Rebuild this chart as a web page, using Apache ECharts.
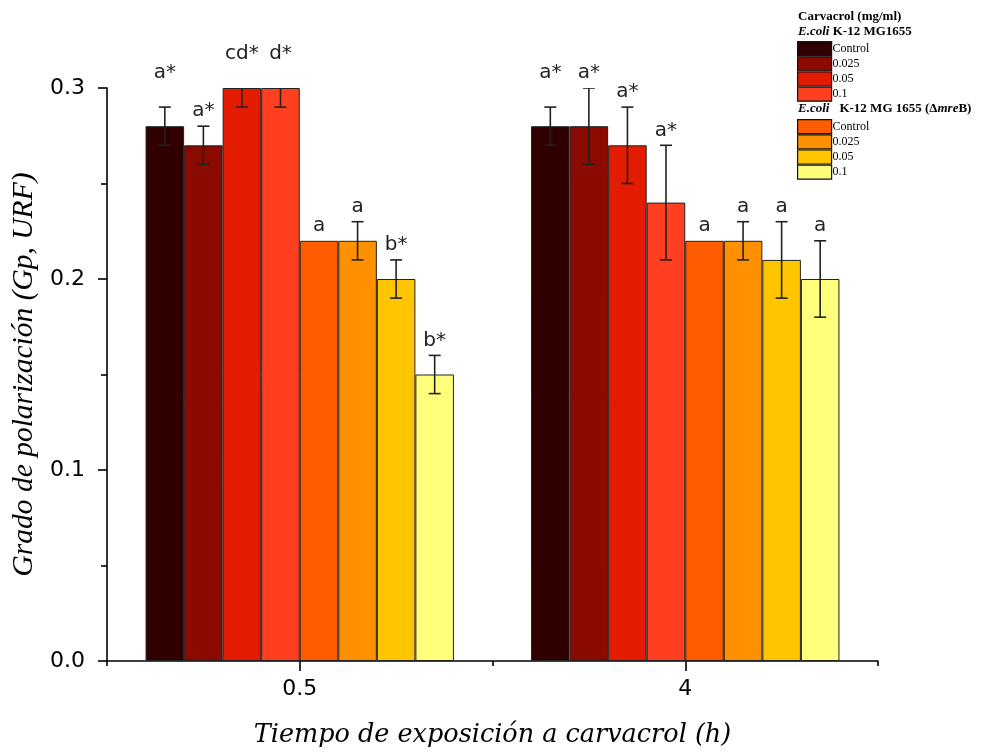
<!DOCTYPE html>
<html>
<head>
<meta charset="utf-8">
<script src="https://cdn.jsdelivr.net/npm/echarts@6/dist/echarts.min.js"></script>
<style>html,body{margin:0;padding:0;background:#fff;}#chart{width:1001px;height:753px;}</style>
</head>
<body>
<div id="chart"></div>
<script>
// ---- data ----
const categories = ['0.5', '4'];
const concentrations = ['Control', '0.025', '0.05', '0.1'];
const strainA = 'MG1655';
const strainB = 'mreB';
// means per bar (4 x MG1655, then 4 x ΔmreB)
const means05 = [0.28, 0.27, 0.30, 0.30, 0.22, 0.22, 0.20, 0.15];
const means4  = [0.28, 0.28, 0.27, 0.24, 0.22, 0.22, 0.21, 0.20];
const sd05 = [0.01, 0.01, 0.01, 0.01, 0.00, 0.01, 0.01, 0.01];
const sd4  = [0.01, 0.02, 0.02, 0.03, 0.00, 0.01, 0.02, 0.02];
const letters05 = ['a*', 'a*', 'cd*', 'd*', 'a', 'a', 'b*', 'b*'];
const letters4  = ['a*', 'a*', 'a*', 'a*', 'a', 'a', 'a', 'a'];
const letterAt05 = [0.30, 0.28, 0.31, 0.31, 0.22, 0.23, 0.21, 0.16];
const letterAt4  = [0.30, 0.30, 0.29, 0.27, 0.22, 0.23, 0.23, 0.22];
const yTicks = [0.0, 0.1, 0.2, 0.3];

const colors = ['#300000', '#8a0a00', '#e31b00', '#ff3f1f', '#ff5c00', '#ff9000', '#ffc600', '#ffff7c'];

const seriesNames = [];
[strainA, strainB].forEach(s => concentrations.forEach(c => seriesNames.push(s + '|' + c)));

const nBars = seriesNames.length;
const meansByCat = [means05, means4];
const sdByCat = [sd05, sd4];
const lettersByCat = [letters05, letters4];
const letterAtByCat = [letterAt05, letterAt4];

const barSeries = seriesNames.map((name, j) => ({
  name: name,
  type: 'bar',
  xAxisIndex: 0,
  barGap: '0%',
  barCategoryGap: '20%',
  itemStyle: { color: colors[j], borderColor: '#222', borderWidth: 1 },
  emphasis: { disabled: true },
  data: meansByCat.map(m => m[j])
}));

const errData = [];
const lblData = [];
const lblText = [];
for (let c = 0; c < categories.length; c++) {
  for (let j = 0; j < nBars; j++) {
    errData.push([c, j, meansByCat[c][j], sdByCat[c][j]]);
    lblData.push([c, j, letterAtByCat[c][j]]);
    lblText.push(lettersByCat[c][j]);
  }
}

function barCenterX(api, c, v, j) {
  const band = api.size([1, 0])[0];
  const bw = band * 0.8 / nBars;
  return api.coord([c, v])[0] + (j - (nBars - 1) / 2) * bw;
}

const errSeries = {
  type: 'custom',
  name: 'err',
  clip: true,
  silent: true,
  z: 5,
  data: errData,
  encode: { x: 0, y: 2 },
  renderItem: function (params, api) {
    const c = api.value(0), j = api.value(1), m = api.value(2), s = api.value(3);
    if (!s) return null;
    const x = barCenterX(api, c, m, j);
    const yt = api.coord([c, m + s])[1];
    const yb = api.coord([c, m - s])[1];
    const cap = 6;
    const st = { stroke: '#222', lineWidth: 1.6 };
    return {
      type: 'group',
      children: [
        { type: 'line', shape: { x1: x, y1: yt, x2: x, y2: yb }, style: st },
        { type: 'line', shape: { x1: x - cap, y1: yt, x2: x + cap, y2: yt }, style: st },
        { type: 'line', shape: { x1: x - cap, y1: yb, x2: x + cap, y2: yb }, style: st }
      ]
    };
  }
};

const lblSeries = {
  type: 'custom',
  name: 'letters',
  clip: false,
  silent: true,
  z: 6,
  data: lblData,
  encode: { x: 0, y: 2 },
  renderItem: function (params, api) {
    const c = api.value(0), j = api.value(1), v = api.value(2);
    const x = barCenterX(api, c, v, j);
    const y = api.coord([c, v])[1];
    return {
      type: 'text',
      x: x, y: y - 5,
      style: {
        text: lblText[params.dataIndex],
        fill: '#222',
        font: '20px "DejaVu Sans"',
        align: 'center',
        verticalAlign: 'bottom'
      }
    };
  }
};

const legendCommon = {
  orient: 'vertical',
  left: 797,
  itemWidth: 34,
  itemHeight: 14,
  itemGap: 0,
  padding: 0,
  selectedMode: false,
  icon: 'rect',
  itemStyle: { borderColor: '#111', borderWidth: 1.2 },
  textStyle: { fontFamily: 'Liberation Serif', fontSize: 12, color: '#000', padding: [0, 0, 0, -4], lineHeight: 14 },
  formatter: n => n.split('|')[1]
};

const chart = echarts.init(document.getElementById('chart'), null, { renderer: 'canvas' });
chart.setOption({
  animation: false,
  backgroundColor: '#fff',
  grid: { left: 107, right: 123, top: 88, bottom: 92, containLabel: false },
  legend: [
    Object.assign({}, legendCommon, { top: 41, data: seriesNames.slice(0, 4) }),
    Object.assign({}, legendCommon, { top: 119, data: seriesNames.slice(4) })
  ],
  graphic: [
    {
      type: 'text', left: 798, top: 10,
      style: { text: 'Carvacrol (mg/ml)', font: 'bold 13px "Liberation Serif"', fill: '#000' }
    },
    {
      type: 'text', left: 798, top: 25,
      style: {
        text: '{i|E.coli} {b|K-12 MG1655}',
        rich: {
          i: { font: 'italic bold 13px "Liberation Serif"', fill: '#000' },
          b: { font: 'bold 13px "Liberation Serif"', fill: '#000' }
        }
      }
    },
    {
      type: 'text', left: 798, top: 102,
      style: {
        text: '{i|E.coli}   {b|K-12 MG 1655 (Δ}{bi|mre}{b|B)}',
        rich: {
          i: { font: 'italic bold 13px "Liberation Serif"', fill: '#000' },
          b: { font: 'bold 13px "Liberation Serif"', fill: '#000' },
          bi: { font: 'italic bold 13px "Liberation Serif"', fill: '#000' }
        }
      }
    }
  ],
  xAxis: [
    {
      type: 'category',
      data: categories,
      position: 'bottom',
      axisLine: { lineStyle: { color: '#000', width: 1.6 } },
      axisTick: { show: true, alignWithLabel: false, length: 5, lineStyle: { color: '#000', width: 1.6 } },
      axisLabel: { color: '#000', fontFamily: 'DejaVu Sans', fontSize: 22, margin: 17 },
      name: 'Tiempo de exposición a carvacrol (h)',
      nameLocation: 'middle',
      nameGap: 61,
      nameTextStyle: { fontFamily: 'DejaVu Serif', fontStyle: 'italic', fontSize: 25.5, color: '#000' }
    },
    {
      type: 'category',
      data: categories,
      position: 'bottom',
      axisLine: { show: false },
      axisTick: { show: true, alignWithLabel: true, length: 10, lineStyle: { color: '#000', width: 1.6 } },
      axisLabel: { show: false }
    }
  ],
  yAxis: {
    type: 'value',
    min: yTicks[0],
    max: yTicks[yTicks.length - 1],
    interval: 0.1,
    axisLine: { show: true, lineStyle: { color: '#000', width: 1.6 } },
    axisTick: { show: true, length: 9, lineStyle: { color: '#000', width: 1.6 } },
    minorTick: { show: true, splitNumber: 2, length: 6, lineStyle: { color: '#000', width: 1.6 } },
    splitLine: { show: false },
    axisLabel: { color: '#000', fontFamily: 'DejaVu Sans', fontSize: 22, margin: 22, formatter: v => v.toFixed(1) },
    name: 'Grado de polarización (Gp, URF)',
    nameLocation: 'middle',
    nameGap: 65,
    nameTextStyle: { fontFamily: 'Liberation Serif', fontStyle: 'italic', fontSize: 29.5, color: '#000' }
  },
  series: barSeries.concat([errSeries, lblSeries])
});
</script>
</body>
</html>
